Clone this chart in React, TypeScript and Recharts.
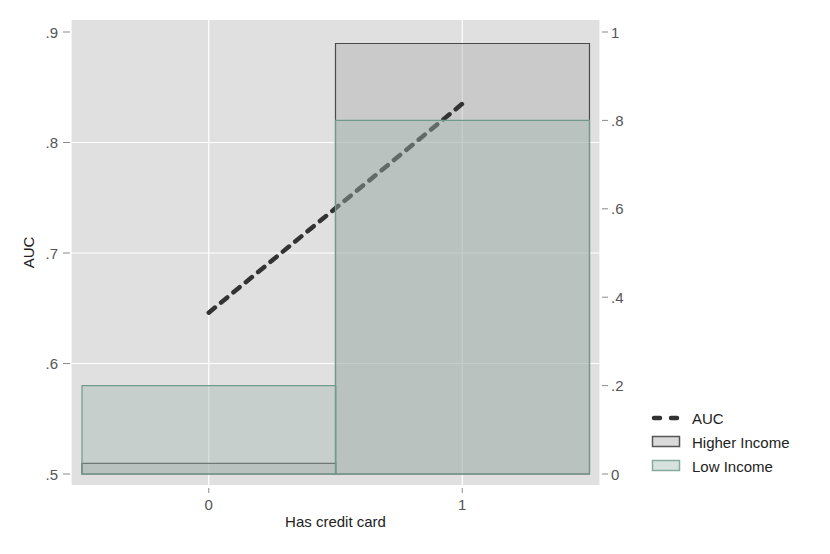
import React from 'react';
import { ComposedChart, Bar, Line, XAxis, YAxis, CartesianGrid, Label } from 'recharts';

const categories = ['0', '1'];
const higherIncome = [0.024, 0.974];
const lowIncome = [0.2, 0.8];
const auc = [0.646, 0.835];
const leftTicks = [0.5, 0.6, 0.7, 0.8, 0.9];
const rightTicks = [0, 0.2, 0.4, 0.6, 0.8, 1];
const legendLabels = ['AUC', 'Higher Income', 'Low Income'];

const data = categories.map((c, i) => ({
  x: c,
  higher: higherIncome[i],
  low: lowIncome[i],
  auc: auc[i],
}));

const FONT = '"Liberation Sans", Arial, Helvetica, sans-serif';
const FS = 15;
const fmt = (v: number) => {
  if (v === 0) return '0';
  if (v === 1) return '1';
  return String(Number(v.toFixed(2))).replace(/^0/, '');
};

const BottomTick = (props: any) => {
  const { x, y, payload } = props;
  return (
    <g>
      <line x1={x} x2={x} y1={y + 3} y2={y + 8} stroke="#8a8a8a" strokeWidth={1} />
      <text x={x} y={y + 25} textAnchor="middle" fontSize={FS} fill="#555" fontFamily={FONT}>
        {payload.value}
      </text>
    </g>
  );
};

const LeftTick = (props: any) => {
  const { x, y, payload } = props;
  return (
    <g>
      <line x1={x - 8} x2={x - 1} y1={y} y2={y} stroke="#8a8a8a" strokeWidth={1} />
      <text x={x - 13} y={y + 5.5} textAnchor="end" fontSize={FS} fill="#555" fontFamily={FONT}>
        {fmt(payload.value)}
      </text>
    </g>
  );
};

const RightTick = (props: any) => {
  const { x, y, payload } = props;
  return (
    <g>
      <line x1={x + 2} x2={x + 8} y1={y} y2={y} stroke="#8a8a8a" strokeWidth={1} />
      <text x={x + 11} y={y + 5.5} textAnchor="start" fontSize={FS} fill="#555" fontFamily={FONT}>
        {fmt(payload.value)}
      </text>
    </g>
  );
};

const XTitle = (props: any) => {
  const vb = props.viewBox || {};
  return (
    <text x={vb.x + vb.width / 2} y={527} textAnchor="middle" fontSize={FS} fill="#222" fontFamily={FONT}>
      Has credit card
    </text>
  );
};

const YTitle = (props: any) => {
  const vb = props.viewBox || {};
  const cy = vb.y + vb.height / 2;
  return (
    <text
      x={34}
      y={cy}
      textAnchor="middle"
      fontSize={FS}
      fill="#222"
      fontFamily={FONT}
      transform={`rotate(-90, 34, ${cy})`}
    >
      AUC
    </text>
  );
};

const LegendBox = () => (
  <svg
    width={180}
    height={80}
    style={{ position: 'absolute', left: 640, top: 405, overflow: 'visible' }}
  >
    <line x1={14} x2={20} y1={13} y2={13} stroke="#333" strokeWidth={4.5} strokeLinecap="round" />
    <line x1={31} x2={37} y1={13} y2={13} stroke="#333" strokeWidth={4.5} strokeLinecap="round" />
    <text x={52} y={18.5} fontSize={FS} fill="#222" fontFamily={FONT}>{legendLabels[0]}</text>
    <rect x={12.5} y={31.5} width={27} height={10} fill="#dadada" stroke="#555" strokeWidth={1.5} />
    <text x={52} y={42.5} fontSize={FS} fill="#222" fontFamily={FONT}>{legendLabels[1]}</text>
    <rect x={12.5} y={55.5} width={27} height={10} fill="#d6e2de" stroke="#87aa9f" strokeWidth={1.5} />
    <text x={52} y={66.5} fontSize={FS} fill="#222" fontFamily={FONT}>{legendLabels[2]}</text>
  </svg>
);

export default function App() {
  return (
    <div style={{ position: 'absolute', left: 0, top: 0, width: 830, height: 554, background: '#fff' }}>
      <ComposedChart
        width={830}
        height={554}
        data={data}
        margin={{ top: 20, right: 190, bottom: 19, left: 0 }}
        barCategoryGap={0}
        barGap={0}
      >
        <CartesianGrid
          xAxisId="a"
          yAxisId="left"
          fill="#e0e0e0"
          fillOpacity={1}
          stroke="#ffffff"
          strokeWidth={1.2}
          horizontalValues={[0.6, 0.7, 0.8]}
        />
        <XAxis
          xAxisId="a"
          dataKey="x"
          type="category"
          padding={{ left: 11, right: 11 }}
          axisLine={false}
          tickLine={false}
          tickSize={0}
          tickMargin={0}
          height={50}
          tick={<BottomTick />}
          interval={0}
        >
          <Label content={<XTitle />} />
        </XAxis>
        <XAxis xAxisId="b" dataKey="x" type="category" padding={{ left: 11, right: 11 }} hide />
        <YAxis
          yAxisId="left"
          orientation="left"
          type="number"
          domain={[0.5, 0.9]}
          ticks={leftTicks}
          padding={{ top: 12, bottom: 11 }}
          width={71}
          axisLine={false}
          tickLine={false}
          tickSize={0}
          tickMargin={0}
          tick={<LeftTick />}
          interval={0}
        >
          <Label content={<YTitle />} />
        </YAxis>
        <YAxis
          yAxisId="right"
          orientation="right"
          type="number"
          domain={[0, 1]}
          ticks={rightTicks}
          padding={{ top: 12, bottom: 11 }}
          width={40}
          axisLine={false}
          tickLine={false}
          tickSize={0}
          tickMargin={0}
          tick={<RightTick />}
          interval={0}
        />
        <Bar
          xAxisId="a"
          yAxisId="right"
          dataKey="higher"
          name="Higher Income"
          fill="#a0a0a0"
          fillOpacity={0.35}
          stroke="#4a4a4a"
          strokeWidth={1.2}
          isAnimationActive={false}
          zIndex={300}
        />
        <Line
          xAxisId="a"
          yAxisId="left"
          dataKey="auc"
          name="AUC"
          stroke="#333"
          strokeWidth={4.5}
          strokeDasharray="8 8"
          strokeLinecap="round"
          dot={false}
          activeDot={false}
          isAnimationActive={false}
          zIndex={400}
        />
        <Bar
          xAxisId="b"
          yAxisId="right"
          dataKey="low"
          name="Low Income"
          fill="#a2b8b0"
          fillOpacity={0.42}
          stroke="#6f9a8d"
          strokeWidth={1.2}
          isAnimationActive={false}
          zIndex={500}
        />
      </ComposedChart>
      <LegendBox />
    </div>
  );
}
